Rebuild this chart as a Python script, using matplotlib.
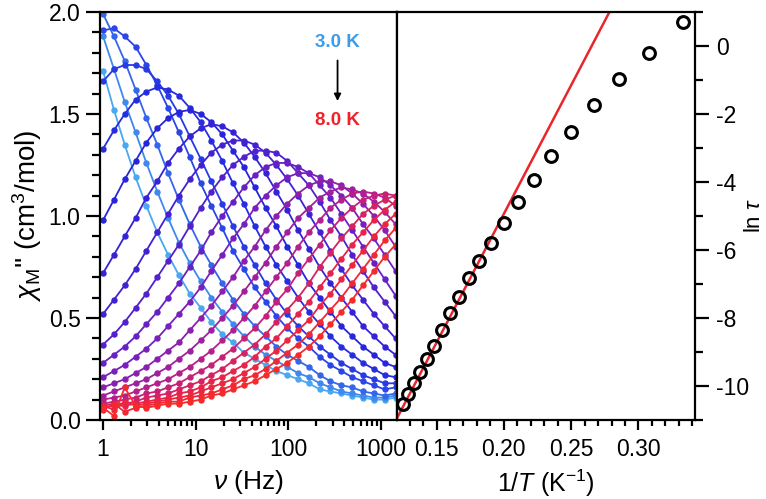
import numpy as np
import matplotlib
matplotlib.use("Agg")
import matplotlib.pyplot as plt
from matplotlib.colors import LinearSegmentedColormap
from matplotlib.ticker import MultipleLocator, LogLocator, NullFormatter, FixedLocator

plt.rcParams['font.family'] = ['Liberation Sans', 'DejaVu Sans']
plt.rcParams['mathtext.fontset'] = 'custom'
plt.rcParams['mathtext.it'] = 'Liberation Sans:italic'
plt.rcParams['mathtext.rm'] = 'Liberation Sans'
plt.rcParams['axes.unicode_minus'] = False

# ac frequencies (Hz)
freq = [1.00, 1.31, 1.71, 2.24, 2.93, 3.84, 5.02, 6.57, 8.60, 11.3, 14.7, 19.3, 25.2, 33.0,
        43.2, 56.6, 74.0, 96.9, 127, 166, 217, 284, 372, 487, 637, 834, 1091, 1428]

temps = [3.0, 3.25, 3.5, 3.75, 4.0, 4.25, 4.5, 4.75, 5.0, 5.25, 5.5,
         5.75, 6.0, 6.25, 6.5, 6.75, 7.0, 7.25, 7.5, 7.75, 8.0]

# chi'' (cm3/mol) for each temperature
chi_300 = [1.71, 1.52, 1.35, 1.19, 1.05, 0.92, 0.81, 0.71, 0.62, 0.55, 0.48, 0.42, 0.38, 0.33,
           0.30, 0.27, 0.24, 0.22, 0.20, 0.18, 0.15, 0.14, 0.13, 0.12, 0.11, 0.10, 0.10, 0.11]
chi_325 = [1.88, 1.72, 1.56, 1.41, 1.26, 1.12, 0.99, 0.87, 0.77, 0.68, 0.60, 0.53, 0.47, 0.41,
           0.36, 0.32, 0.29, 0.26, 0.23, 0.21, 0.18, 0.16, 0.14, 0.13, 0.12, 0.11, 0.11, 0.12]
chi_350 = [1.99, 1.88, 1.76, 1.62, 1.48, 1.35, 1.21, 1.08, 0.96, 0.85, 0.76, 0.67, 0.59, 0.52,
           0.46, 0.41, 0.36, 0.32, 0.29, 0.26, 0.22, 0.19, 0.17, 0.16, 0.14, 0.13, 0.12, 0.13]
chi_375 = [1.91, 1.92, 1.88, 1.83, 1.74, 1.64, 1.53, 1.41, 1.29, 1.16, 1.05, 0.94, 0.83, 0.74,
           0.65, 0.58, 0.51, 0.45, 0.40, 0.36, 0.31, 0.27, 0.24, 0.21, 0.19, 0.17, 0.15, 0.16]
chi_400 = [1.66, 1.72, 1.74, 1.74, 1.72, 1.66, 1.59, 1.50, 1.39, 1.28, 1.17, 1.06, 0.95, 0.85,
           0.76, 0.67, 0.59, 0.52, 0.46, 0.41, 0.36, 0.32, 0.28, 0.25, 0.22, 0.20, 0.18, 0.18]
chi_425 = [1.33, 1.42, 1.50, 1.57, 1.61, 1.63, 1.62, 1.59, 1.53, 1.46, 1.37, 1.27, 1.16, 1.06,
           0.95, 0.85, 0.76, 0.68, 0.60, 0.53, 0.47, 0.41, 0.36, 0.32, 0.28, 0.25, 0.22, 0.21]
chi_450 = [0.98, 1.08, 1.18, 1.27, 1.36, 1.43, 1.48, 1.51, 1.52, 1.50, 1.46, 1.40, 1.32, 1.24,
           1.14, 1.04, 0.95, 0.85, 0.76, 0.67, 0.60, 0.53, 0.46, 0.41, 0.36, 0.32, 0.28, 0.26]
chi_475 = [0.72, 0.81, 0.90, 0.99, 1.09, 1.17, 1.26, 1.33, 1.39, 1.43, 1.45, 1.44, 1.41, 1.36,
           1.29, 1.21, 1.12, 1.03, 0.93, 0.84, 0.75, 0.67, 0.60, 0.53, 0.46, 0.41, 0.36, 0.32]
chi_500 = [0.52, 0.59, 0.66, 0.74, 0.83, 0.92, 1.01, 1.10, 1.18, 1.25, 1.31, 1.35, 1.37, 1.37,
           1.35, 1.31, 1.25, 1.18, 1.10, 1.01, 0.92, 0.83, 0.74, 0.66, 0.59, 0.52, 0.46, 0.40]
chi_525 = [0.37, 0.42, 0.48, 0.55, 0.62, 0.70, 0.78, 0.86, 0.95, 1.04, 1.12, 1.19, 1.25, 1.29,
           1.32, 1.32, 1.31, 1.27, 1.21, 1.15, 1.07, 0.98, 0.90, 0.81, 0.73, 0.65, 0.58, 0.51]
chi_550 = [0.28, 0.32, 0.36, 0.41, 0.47, 0.53, 0.60, 0.67, 0.75, 0.83, 0.92, 1.00, 1.07, 1.14,
           1.20, 1.24, 1.26, 1.26, 1.24, 1.21, 1.15, 1.09, 1.01, 0.93, 0.85, 0.77, 0.69, 0.61]
chi_575 = [0.21, 0.24, 0.27, 0.31, 0.35, 0.40, 0.46, 0.52, 0.58, 0.65, 0.73, 0.81, 0.89, 0.96,
           1.04, 1.10, 1.15, 1.19, 1.21, 1.21, 1.19, 1.15, 1.10, 1.04, 0.96, 0.89, 0.81, 0.73]
chi_600 = [0.16, 0.18, 0.20, 0.23, 0.26, 0.30, 0.34, 0.38, 0.44, 0.50, 0.56, 0.63, 0.70, 0.78,
           0.85, 0.93, 1.00, 1.06, 1.11, 1.15, 1.17, 1.17, 1.15, 1.11, 1.06, 1.00, 0.93, 0.85]
chi_625 = [0.12, 0.14, 0.16, 0.18, 0.20, 0.23, 0.26, 0.30, 0.34, 0.39, 0.44, 0.50, 0.56, 0.63,
           0.70, 0.77, 0.85, 0.92, 0.99, 1.04, 1.09, 1.12, 1.14, 1.13, 1.11, 1.07, 1.02, 0.96]
chi_650 = [0.10, 0.11, 0.12, 0.14, 0.16, 0.18, 0.20, 0.23, 0.26, 0.30, 0.34, 0.39, 0.44, 0.50,
           0.56, 0.63, 0.70, 0.77, 0.85, 0.92, 0.98, 1.04, 1.08, 1.11, 1.12, 1.11, 1.09, 1.05]
chi_675 = [0.08, 0.09, 0.10, 0.11, 0.13, 0.14, 0.16, 0.18, 0.21, 0.24, 0.27, 0.31, 0.35, 0.40,
           0.45, 0.51, 0.58, 0.64, 0.72, 0.79, 0.86, 0.93, 0.99, 1.04, 1.08, 1.10, 1.11, 1.10]
chi_700 = [0.07, 0.08, 0.08, 0.09, 0.11, 0.12, 0.13, 0.15, 0.17, 0.19, 0.22, 0.25, 0.29, 0.33,
           0.37, 0.42, 0.48, 0.54, 0.60, 0.67, 0.75, 0.82, 0.89, 0.95, 1.01, 1.05, 1.08, 1.10]
chi_725 = [0.06, 0.07, 0.07, 0.08, 0.09, 0.10, 0.11, 0.13, 0.14, 0.16, 0.19, 0.21, 0.24, 0.27,
           0.31, 0.36, 0.40, 0.46, 0.52, 0.58, 0.65, 0.72, 0.79, 0.86, 0.92, 0.98, 1.03, 1.07]
chi_750 = [0.07, 0.05, 0.09, 0.07, 0.08, 0.09, 0.10, 0.11, 0.12, 0.14, 0.16, 0.18, 0.20, 0.23,
           0.26, 0.30, 0.34, 0.39, 0.44, 0.49, 0.56, 0.62, 0.69, 0.76, 0.83, 0.90, 0.96, 1.01]
chi_775 = [0.05, 0.08, 0.04, 0.06, 0.07, 0.08, 0.09, 0.09, 0.11, 0.12, 0.13, 0.15, 0.17, 0.20,
           0.22, 0.25, 0.29, 0.33, 0.37, 0.42, 0.48, 0.54, 0.60, 0.67, 0.74, 0.81, 0.88, 0.94]
chi_800 = [0.06, 0.02, 0.16, 0.07, 0.06, 0.07, 0.08, 0.08, 0.09, 0.10, 0.12, 0.13, 0.15, 0.17,
           0.19, 0.22, 0.25, 0.28, 0.32, 0.36, 0.41, 0.47, 0.53, 0.59, 0.66, 0.73, 0.80, 0.86]

curves = [chi_300, chi_325, chi_350, chi_375, chi_400, chi_425, chi_450, chi_475, chi_500,
          chi_525, chi_550, chi_575, chi_600, chi_625, chi_650, chi_675, chi_700, chi_725,
          chi_750, chi_775, chi_800]

# Arrhenius data: ln(tau) vs 1/T
ln_tau = [0.71, -0.20, -0.96, -1.73, -2.52, -3.24, -3.95, -4.60, -5.21, -5.80, -6.32,
          -6.83, -7.38, -7.86, -8.36, -8.81, -9.21, -9.58, -9.92, -10.24, -10.53]
fit_slope = 75.7      # Ueff/k (K)
fit_icept = -20.08    # ln(tau0)

cmap = LinearSegmentedColormap.from_list(
    "tcol", ["#4aa8f0", "#2a48e6", "#2424dc", "#4a20d0", "#8020b8", "#b8208a", "#e82448", "#f52a2a"])
colors = [cmap(i / (len(temps) - 1)) for i in range(len(temps))]

fig = plt.figure(figsize=(7.66, 4.99), dpi=100)
ax1 = fig.add_axes([0.1305, 0.1583, 0.3877, 0.8177])
ax2 = fig.add_axes([0.518, 0.1583, 0.3893, 0.8177])

for c, col in zip(curves, colors):
    ax1.plot(freq, c, '-o', color=col, lw=1.3, ms=3.6, mec=col, mfc=col)

ax1.set_xscale('log')
ax1.set_xlim(0.925, 1480)
ax1.set_ylim(0, 2.0)
ax1.xaxis.set_major_locator(FixedLocator([1, 10, 100, 1000]))
ax1.xaxis.set_major_formatter(matplotlib.ticker.FixedFormatter(['1', '10', '100', '1000']))
ax1.xaxis.set_minor_locator(LogLocator(base=10, subs=np.arange(2, 10)))
ax1.xaxis.set_minor_formatter(NullFormatter())
ax1.yaxis.set_major_locator(MultipleLocator(0.5))
ax1.yaxis.set_minor_locator(MultipleLocator(0.1))
ax1.yaxis.set_major_formatter(matplotlib.ticker.FormatStrFormatter('%.1f'))
ax1.tick_params(which='both', direction='out', width=1.6, labelsize=16.5, top=False, right=False)
ax1.tick_params(axis='x', which='major', length=7, pad=6)
ax1.tick_params(axis='x', which='minor', length=4)
ax1.tick_params(axis='y', which='major', length=10, pad=4)
ax1.tick_params(axis='y', which='minor', length=5.5)
ax1.set_xlabel(r'$\nu$ (Hz)', fontsize=19, labelpad=5)
ax1.set_ylabel(r"$\chi_{\rm M}$'' (cm$^3$/mol)", fontsize=20, labelpad=3)

ax1.text(0.80, 0.925, '3.0 K', transform=ax1.transAxes, color='#3c9bea',
         fontsize=13.5, fontweight='bold', ha='center', va='center')
ax1.text(0.80, 0.735, '8.0 K', transform=ax1.transAxes, color='#ee2229',
         fontsize=13.5, fontweight='bold', ha='center', va='center')
ax1.annotate('', xy=(0.80, 0.775), xytext=(0.80, 0.888), xycoords='axes fraction',
             arrowprops=dict(arrowstyle='-|>', color='black', lw=1.3, mutation_scale=10))

inv_T = [1.0 / t for t in temps]
ax2.plot(inv_T, ln_tau, 'o', mfc='none', mec='black', mew=2.2, ms=8.5, zorder=3)
xfit = np.array([0.11, 0.30])
ax2.plot(xfit, fit_icept + fit_slope * xfit, color='#e8262b', lw=1.8, zorder=2)

ax2.set_xlim(0.1205, 0.342)
ax2.set_ylim(-11, 1)
ax2.xaxis.set_major_locator(FixedLocator([0.15, 0.20, 0.25, 0.30]))
ax2.xaxis.set_major_formatter(matplotlib.ticker.FormatStrFormatter('%.2f'))
ax2.xaxis.set_minor_locator(MultipleLocator(0.01))
ax2.yaxis.set_major_locator(MultipleLocator(2))
ax2.yaxis.set_minor_locator(MultipleLocator(1))
ax2.yaxis.tick_right()
ax2.yaxis.set_label_position('right')
ax2.tick_params(which='both', direction='out', width=1.6, labelsize=16.5,
                left=False, top=False, right=True, labelleft=False, labelright=True)
ax2.tick_params(axis='x', which='major', length=7, pad=6)
ax2.tick_params(axis='x', which='minor', length=4)
ax2.tick_params(axis='y', which='major', length=10, pad=5)
ax2.tick_params(axis='y', which='minor', length=5.5)
ax2.set_xlabel(r'1/$T$ (K$^{-1}$)', fontsize=18, labelpad=5)
ax2.set_ylabel(r'ln $\tau$', fontsize=16)
ax2.yaxis.set_label_coords(1.163, 0.5)

for ax in (ax1, ax2):
    for s in ax.spines.values():
        s.set_linewidth(1.6)

fig.savefig('out.png', dpi=100)
